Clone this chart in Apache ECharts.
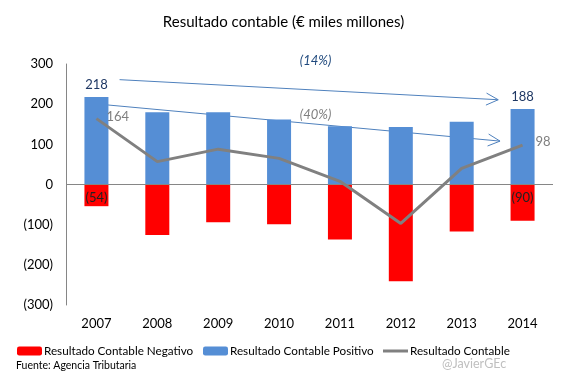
<!DOCTYPE html>
<html>
<head>
<meta charset="utf-8">
<script src="https://cdn.jsdelivr.net/npm/echarts@6/dist/echarts.min.js"></script>
<style>html,body{margin:0;padding:0;background:#fff}#c{width:567px;height:378px}</style>
</head>
<body>
<div id="c"></div>
<script>
const categories = ['2007','2008','2009','2010','2011','2012','2013','2014'];
const positivo = [218, 180, 180, 162, 145, 143, 156, 188];
const negativo = [-54, -126, -94, -99, -137, -241, -117, -90];
const neto = [164, 57, 88, 65, 8, -97, 40, 98];
const yTicks = { min: -300, max: 300, interval: 100 };
// annotation arrows in data coordinates [categoryIndex, value]
const arrows = [
  { from: [0.38, 261], to: [6.6, 211], color: '#4F81BD' },
  { from: [-0.03, 201], to: [6.63, 108], color: '#4F81BD' }
];
const notes = [
  { text: '(14%)', at: [3.6, 308], color: '#1F497D' },
  { text: '(40%)', at: [3.6, 174], color: '#7F7F7F' }
];

const FONT = 'Lato';
const chart = echarts.init(document.getElementById('c'));
const fmt = v => v < 0 ? '(' + Math.abs(v) + ')' : String(v);
const last = categories.length - 1;

chart.setOption({
  animation: false,
  textStyle: { fontFamily: FONT },
  title: {
    text: 'Resultado contable (€ miles millones)',
    left: 'center', top: 10,
    textStyle: { fontFamily: FONT, fontSize: 15, fontWeight: 'normal', color: '#000' }
  },
  grid: { left: 66, right: 14, top: 64, bottom: 73 },
  xAxis: {
    type: 'category', data: categories,
    axisLine: { show: false }, axisTick: { show: false },
    axisLabel: { color: '#000', fontSize: 13, margin: 12, fontFamily: FONT }
  },
  yAxis: {
    type: 'value', min: yTicks.min, max: yTicks.max, interval: yTicks.interval,
    axisLine: { show: true, lineStyle: { color: '#868686' } },
    axisTick: { show: false }, splitLine: { show: false },
    axisLabel: { color: '#000', fontSize: 13, margin: 13, formatter: fmt, fontFamily: FONT }
  },
  legend: [
    { data: ['Resultado Contable Negativo'], left: 12, itemHeight: 9 },
    { data: ['Resultado Contable Positivo'], left: 198, itemHeight: 9 },
    { data: [{ name: 'Resultado Contable', icon: 'rect' }], left: 378, itemHeight: 3 }
  ].map(l => Object.assign(l, {
    top: 340, itemWidth: 25, itemGap: 4,
    textStyle: { fontFamily: FONT, fontSize: 11.7, color: '#000', padding: [0, 0, 0, -3] }
  })),
  series: [
    {
      name: 'Resultado Contable Negativo', type: 'bar', stack: 's', barWidth: 24,
      itemStyle: { color: '#FF0000' },
      data: negativo.map((v, i) => ({
        value: v,
        label: (i === 0 || i === last) ? { show: true, position: 'insideTop', offset: [0, 2], formatter: p => fmt(p.value), color: '#222', fontSize: 13, fontFamily: FONT } : { show: false }
      })),
      markLine: {
        silent: true, symbol: 'none', label: { show: false },
        lineStyle: { color: '#868686', type: 'solid', width: 1 },
        data: [{ yAxis: 0 }]
      }
    },
    {
      name: 'Resultado Contable Positivo', type: 'bar', stack: 's', barWidth: 24,
      itemStyle: { color: '#558ED5' },
      data: positivo.map((v, i) => ({
        value: v,
        label: (i === 0 || i === last) ? { show: true, position: 'top', distance: 6, color: '#1F3864', fontSize: 13, fontFamily: FONT } : { show: false }
      }))
    },
    {
      name: 'Resultado Contable', type: 'line', symbol: 'circle', symbolSize: 0.01, showSymbol: true, z: 5,
      lineStyle: { color: '#808080', width: 3 }, itemStyle: { color: '#808080' },
      data: neto.map((v, i) => ({
        value: v,
        label: (i === 0 || i === last) ? { show: true, position: 'right', distance: i === 0 ? 10 : 13, offset: i === 0 ? [0, -2] : [0, -3], color: '#7F7F7F', fontSize: 13, fontFamily: FONT } : { show: false }
      }))
    }
  ]
});

function px(pt) {
  const x0 = chart.convertToPixel({ xAxisIndex: 0 }, 0);
  const x1 = chart.convertToPixel({ xAxisIndex: 0 }, 1);
  const x = x0 + (x1 - x0) * pt[0];
  const y = chart.convertToPixel({ yAxisIndex: 0 }, pt[1]);
  return [x, y];
}
const g = [];
arrows.forEach(a => {
  const p = px(a.from), q = px(a.to);
  g.push({ type: 'line', shape: { x1: p[0], y1: p[1], x2: q[0], y2: q[1] }, style: { stroke: a.color, lineWidth: 1 } });
  const ang = Math.atan2(q[1] - p[1], q[0] - p[0]);
  const L = 12, W = 6;
  const bx = q[0] - L * Math.cos(ang), by = q[1] - L * Math.sin(ang);
  const nx = -Math.sin(ang), ny = Math.cos(ang);
  g.push({ type: 'polyline', shape: { points: [[bx + nx * W, by + ny * W], q, [bx - nx * W, by - ny * W]] }, style: { stroke: a.color, lineWidth: 1, fill: null } });
});
notes.forEach(n => {
  const p = px(n.at);
  g.push({ type: 'text', x: p[0], y: p[1], style: { text: n.text, fill: n.color, font: 'italic 13px "' + FONT + '"', align: 'center', verticalAlign: 'middle' } });
});
g.push({ type: 'text', left: 16, top: 360, style: { text: 'Fuente: Agencia Tributaria', fill: '#000', font: '10.5px "' + FONT + '"' } });
g.push({ type: 'text', left: 442, top: 357, style: { text: '@JavierGEc', fill: '#BFBFBF', font: '12.5px "' + FONT + '"' } });
chart.setOption({ graphic: g });
</script>
</body>
</html>
